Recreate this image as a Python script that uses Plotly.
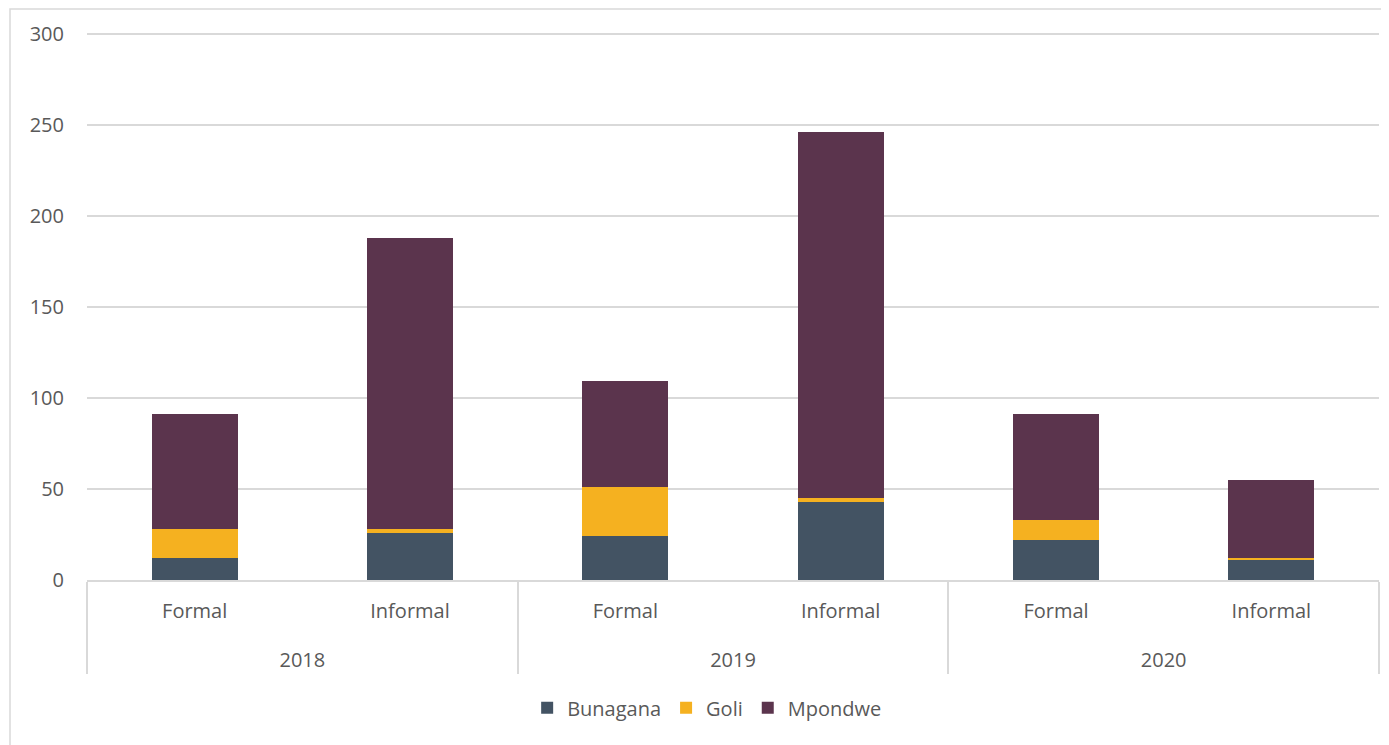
import plotly.graph_objects as go

years = ["2018", "2018", "2019", "2019", "2020", "2020"]
types = ["Formal", "Informal", "Formal", "Informal", "Formal", "Informal"]
bunagana = [12, 26, 24, 43, 22, 11.4]
goli = [16, 2, 27, 2, 11, 0.7]
mpondwe = [63, 160, 58, 201, 58, 42.9]
series_names = ["Bunagana", "Goli", "Mpondwe"]
colors = ["#435363", "#F5B120", "#5B344D"]
y_ticks = [0, 50, 100, 150, 200, 250, 300]

# extra empty line under the first-level labels pushes the year row down
type_labels = [t + "<br><span style='font-size:40px'> </span>" for t in types]

fig = go.Figure()
for name, vals, col in zip(series_names, [bunagana, goli, mpondwe], colors):
    fig.add_trace(go.Bar(
        x=[years, type_labels], y=vals, name=name,
        marker=dict(color=col, line=dict(width=0)),
        width=0.4,
    ))

W, H = 1381, 737
L, T = 79, 22
PW, PH = 1292, 550
font_family = "Open Sans, Noto Sans, sans-serif"
fig.update_layout(
    barmode="stack",
    width=W, height=H,
    margin=dict(l=L, r=W - L - PW, t=T, b=H - T - PH, autoexpand=False),
    paper_bgcolor="white", plot_bgcolor="white",
    font=dict(family=font_family, size=20, color="#595959"),
    legend=dict(orientation="h", x=0.48, xanchor="center", y=-0.197, yanchor="top",
                font=dict(size=20, color="#595959"), traceorder="normal",
                itemwidth=30),
    xaxis=dict(type="multicategory", showline=True, linecolor="#d9d9d9", linewidth=1.5,
               showdividers=True, dividercolor="#d9d9d9", dividerwidth=1.5,
               tickfont=dict(size=20, color="#595959"), ticks="", ticklabelstandoff=12,
               automargin=False),
    yaxis=dict(range=[0, 302], tickvals=y_ticks, showgrid=True, gridcolor="#d9d9d9",
               gridwidth=1.5, zeroline=False, showline=False, automargin=False,
               tickfont=dict(size=20, color="#595959"), ticklabelstandoff=22),
    shapes=[dict(type="rect", xref="paper", yref="paper",
                 x0=(2 - L) / PW, x1=1.1, y0=-0.5, y1=(T + PH - 1) / PH,
                 line=dict(color="#d9d9d9", width=1.5), fillcolor="rgba(0,0,0,0)",
                 layer="below")],
)
fig.write_html("out.html")
